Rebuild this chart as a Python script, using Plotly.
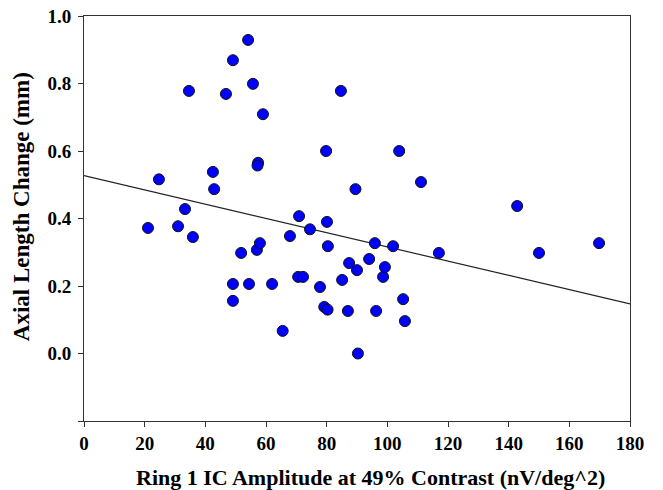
import plotly.graph_objects as go

# Data
ring1_amp = [21.1, 24.7, 31.0, 33.3, 34.6, 35.9, 42.5, 42.9, 46.8, 49.1,
             49.1, 49.1, 51.8, 54.1, 54.4, 55.7, 57.0, 58.0, 57.4, 57.2,
             59.0, 62.0, 65.5, 67.9, 70.6, 72.2, 70.9, 74.5, 77.8, 79.2,
             80.3, 79.8, 80.1, 80.4, 84.7, 85.1, 87.0, 87.4, 89.5, 90.0,
             90.3, 94.0, 95.9, 96.3, 98.6, 99.2, 101.9, 103.9, 105.2, 105.8,
             111.1, 117.0, 142.8, 150.0, 169.8]
axial_change = [0.372, 0.516, 0.377, 0.428, 0.778, 0.345, 0.538, 0.487, 0.769, 0.869,
                0.206, 0.156, 0.298, 0.929, 0.206, 0.799, 0.307, 0.327, 0.565, 0.557,
                0.709, 0.206, 0.067, 0.348, 0.227, 0.227, 0.407, 0.368, 0.197, 0.138,
                0.130, 0.600, 0.390, 0.318, 0.778, 0.218, 0.126, 0.268, 0.487, 0.247,
                0.000, 0.280, 0.327, 0.126, 0.227, 0.256, 0.318, 0.600, 0.161, 0.096,
                0.508, 0.298, 0.437, 0.298, 0.327]

fit_x = [0, 180]
fit_y = [0.527, 0.147]

x_ticks = [0, 20, 40, 60, 80, 100, 120, 140, 160, 180]
y_ticks = [-0.2, 0.0, 0.2, 0.4, 0.6, 0.8, 1.0]
y_tick_labels = ["", "0.0", "0.2", "0.4", "0.6", "0.8", "1.0"]

x_title = "Ring 1 IC Amplitude at 49% Contrast (nV/deg^2)"
y_title = "Axial Length Change (mm)"

font_family = "Liberation Serif"

fig = go.Figure()
fig.add_trace(go.Scatter(
    x=fit_x, y=fit_y, mode="lines",
    line=dict(color="#222222", width=1.2),
    showlegend=False, hoverinfo="skip"))
fig.add_trace(go.Scatter(
    x=ring1_amp, y=axial_change, mode="markers",
    marker=dict(color="#0000FF", size=11, line=dict(color="#111111", width=1)),
    showlegend=False))

axis_common = dict(
    showgrid=False, zeroline=False, showline=True, linecolor="#333333",
    linewidth=1, mirror=True, ticks="outside", ticklen=5, tickwidth=1,
    tickcolor="#333333", automargin=False,
    tickfont=dict(family=font_family, size=19, color="black", weight="bold"),
)

fig.update_xaxes(range=[0, 180], tickvals=x_ticks, **axis_common)
fig.update_yaxes(range=[-0.2, 1.0], tickvals=y_ticks, ticktext=y_tick_labels,
                 ticklabelstandoff=3, **axis_common)

fig.add_annotation(
    text=x_title, xref="paper", yref="paper", x=0.5247, y=0,
    xanchor="center", yanchor="middle", yshift=-56, showarrow=False,
    font=dict(family=font_family, size=22, color="black", weight="bold"))
fig.add_annotation(
    text=y_title, xref="paper", yref="paper", x=0, y=0.528,
    xanchor="center", yanchor="middle", xshift=-63, textangle=-90, showarrow=False,
    font=dict(family=font_family, size=23, color="black", weight="bold"))

fig.update_layout(
    width=663, height=490,
    margin=dict(l=84, r=33, t=16, b=69),
    paper_bgcolor="white", plot_bgcolor="white",
)

fig.write_html("out.html", config={"displayModeBar": False},
               post_script="document.body.style.margin='0px';")
